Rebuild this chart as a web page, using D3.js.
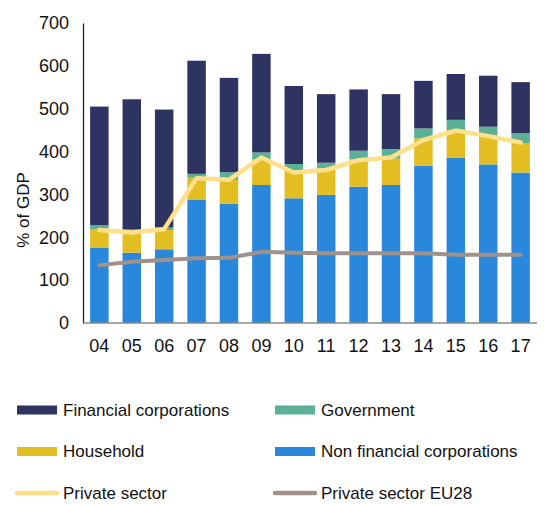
<!DOCTYPE html>
<html>
<head>
<meta charset="utf-8">
<script src="https://cdn.jsdelivr.net/npm/d3@7"></script>
<style>
body{margin:0;background:#fff;}
text{font-family:"Liberation Sans",Arial,sans-serif;fill:#111;}
</style>
</head>
<body>
<svg id="c" width="550" height="505"></svg>
<script>
const years = ["04","05","06","07","08","09","10","11","12","13","14","15","16","17"];
const nonFinancial = [176,164,172,287,278,322,291,299,318,322,367,386,370,351];
const household    = [43,50,45,52,56,60,66,62,64,62,64,64,69,68];
const government   = [9,4,6,9,18,16,14,13,20,22,23,24,19,24];
const financial    = [277,304,275,264,220,230,182,160,143,128,111,107,119,119];
const privateSector = [217,211,219,338,334,386,351,357,380,386,427,449,436,421];
const privateEU28   = [135,143,147,151,152,166,164,163,163,163,163,159,159,159];
const yTicks = [0,100,200,300,400,500,600,700];

const seriesKeys = ["nfc","hh","gov","fc"];
const colors = {nfc:"#2988DC", hh:"#E2BE22", gov:"#5BB095", fc:"#2E3362"};
const table = years.map((y,i)=>({year:y, nfc:nonFinancial[i], hh:household[i], gov:government[i], fc:financial[i]}));

const svg = d3.select("#c");
const x0 = 83, x1 = 537, yTop = 23, yBot = 323;
const x = d3.scaleBand().domain(years).range([x0,x1]).paddingInner(0.43).paddingOuter(0.22);
const y = d3.scaleLinear().domain([0,700]).range([yBot,yTop]);

const stack = d3.stack().keys(seriesKeys)(table);
svg.append("g").selectAll("g").data(stack).join("g")
  .attr("fill", d=>colors[d.key])
  .selectAll("rect").data(d=>d).join("rect")
  .attr("x", d=>x(d.data.year))
  .attr("width", x.bandwidth())
  .attr("y", d=>y(d[1]))
  .attr("height", d=>y(d[0])-y(d[1]));

const line = d3.line().x((d,i)=>x(years[i])+x.bandwidth()/2).y(d=>y(d));
svg.append("path").datum(privateEU28).attr("d", line)
  .attr("fill","none").attr("stroke","#9E928A").attr("stroke-width",4).attr("stroke-linecap","round");
svg.append("path").datum(privateSector).attr("d", line)
  .attr("fill","none").attr("stroke","#FFE08A").attr("stroke-width",4.5).attr("stroke-linecap","round").attr("stroke-linejoin","round");

// y axis
const yAxis = d3.axisLeft(y).tickValues(yTicks).tickSize(0).tickPadding(14);
const gy = svg.append("g").attr("transform",`translate(${x0},0)`).call(yAxis);
gy.select(".domain").attr("stroke","#222").attr("stroke-width",1.3);
gy.selectAll("text").attr("font-size",18).attr("font-family","Liberation Sans, Arial, sans-serif").attr("fill","#111");

// x axis
const xAxis = d3.axisBottom(x).tickSize(0).tickPadding(16);
const gx = svg.append("g").attr("transform",`translate(0,${yBot})`).call(xAxis);
gx.select(".domain").attr("stroke","#8a8a8a").attr("stroke-width",1.5).attr("d",`M${x0},0H${x1}`);
gx.selectAll("text").attr("font-size",18).attr("font-family","Liberation Sans, Arial, sans-serif").attr("fill","#111");

svg.append("text").attr("transform","translate(29,210) rotate(-90)")
  .attr("text-anchor","middle").attr("font-size",17).text("% of GDP");

// legend
const legend = [
  {label:"Financial corporations", color:colors.fc, type:"rect", col:0, row:0},
  {label:"Government", color:colors.gov, type:"rect", col:1, row:0},
  {label:"Household", color:colors.hh, type:"rect", col:0, row:1},
  {label:"Non financial corporations", color:colors.nfc, type:"rect", col:1, row:1},
  {label:"Private sector", color:"#FFE08A", type:"line", col:0, row:2},
  {label:"Private sector EU28", color:"#9E928A", type:"line", col:1, row:2}
];
const colX = [17, 275], rowY = [410, 451.5, 493];
const lg = svg.append("g").selectAll("g").data(legend).join("g")
  .attr("transform", d=>`translate(${colX[d.col]},${rowY[d.row]})`);
lg.filter(d=>d.type==="rect").append("rect").attr("x",0).attr("y",-4.5).attr("width",40).attr("height",9).attr("fill",d=>d.color);
lg.filter(d=>d.type==="line").append("line").attr("x1",0).attr("x2",40).attr("y1",0).attr("y2",0)
  .attr("stroke",d=>d.color).attr("stroke-width",4.5).attr("stroke-linecap","round");
lg.append("text").attr("x",46).attr("y",0).attr("dy","0.35em").attr("font-size",17).text(d=>d.label);
</script>
</body>
</html>
